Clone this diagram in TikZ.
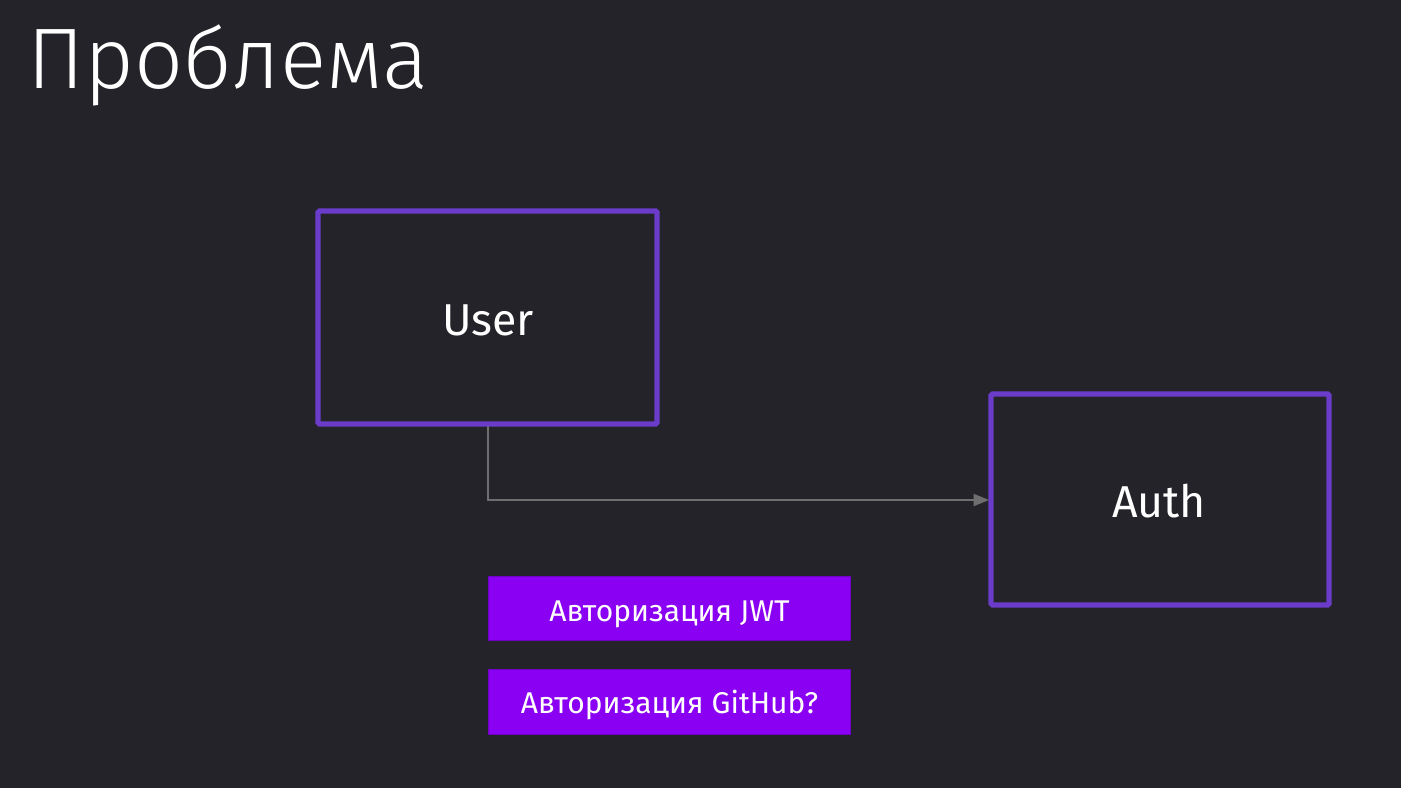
\documentclass[tikz,border=0pt]{standalone}
\usepackage{fontspec}
\setmainfont{Fira Sans}
\newfontfamily\lightfont{Fira Sans Light}
\usetikzlibrary{arrows.meta}
\definecolor{bgc}{HTML}{242329}
\definecolor{boxc}{HTML}{6A3CC9}
\definecolor{fillc}{HTML}{8A00F2}
\definecolor{linec}{HTML}{6E6E70}
\tikzset{
  bigbox/.style={draw=boxc, line width=3.8pt, fill=bgc, rounded corners=1pt},
  tagbox/.style={fill=fillc, draw=fillc!80!black, line width=0.6pt},
  conn/.style={draw=linec, line width=1.3pt, -{Triangle[length=11.5pt,width=9pt]}},
  bigtext/.style={text=white, anchor=base, inner sep=0pt, font=\fontsize{33.5}{40}\selectfont},
  tagtext/.style={text=white, anchor=base, inner sep=0pt, font=\fontsize{22.5}{27}\selectfont},
}
\begin{document}
\begin{tikzpicture}[x=0.75pt,y=-0.75pt]
\fill[bgc] (0,0) rectangle (1401,788);
\useasboundingbox (0,0) rectangle (1401,788);
\node[anchor=base west, text=white, font=\lightfont\fontsize{64.5}{75}\selectfont, inner sep=0pt] (title) at (27,88.5) {Проблема};
\draw[bigbox] (318,211) rectangle (657,424);
\node[bigtext] (user) at (488,335) {User};
\coordinate (ub) at (488,426);
\draw[bigbox] (991,394) rectangle (1329,605);
\node[bigtext] (auth) at (1159,517) {Auth};
\coordinate (al) at (989,500);
\draw[conn] (ub) |- (al);
\draw[tagbox] (488.5,576.5) rectangle (850.5,640.5);
\node[tagtext] (jwt) at (669.5,621) {Авторизация JWT};
\draw[tagbox] (488.5,669.5) rectangle (850.5,734.5);
\node[tagtext] (gh) at (669.5,713) {Авторизация GitHub?};
\end{tikzpicture}
\end{document}
